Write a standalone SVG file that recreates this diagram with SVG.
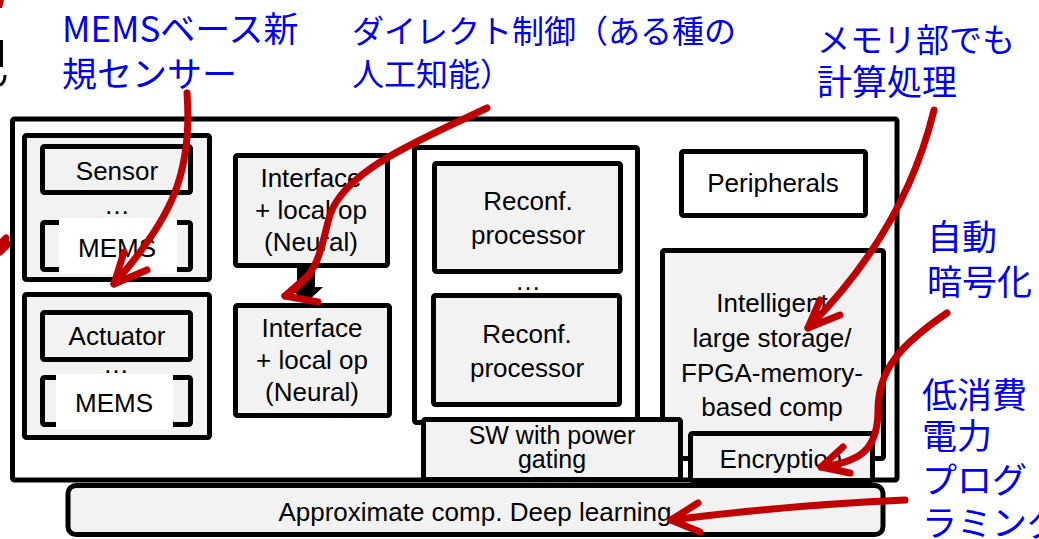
<svg xmlns="http://www.w3.org/2000/svg" width="1039" height="539" viewBox="0 0 1039 539">
<style>
.box{stroke:#000;stroke-width:5;fill:#f2f2f2}
.wbox{stroke:#000;stroke-width:5;fill:#fff}
.t{font-family:"Liberation Sans",Arial,sans-serif;font-size:26px;fill:#000;text-anchor:middle}
.sw{font-size:25px}
.jp{font-family:"Noto Sans CJK JP","Noto Sans CJK SC",sans-serif;font-size:33px;fill:#0000f0}
.jpl{font-size:35px}
.jps{font-size:32px}
.red{fill:none;stroke:#c00000;stroke-width:7;stroke-linecap:round;stroke-linejoin:round}
</style>
<rect width="1039" height="539" fill="#fff"/>
<g id="edge-fragments">
<path d="M0,0 L4,0 L2,8 L0,8 Z" fill="#c00000"/>
<rect x="0" y="40" width="3" height="27" fill="#000"/>
<path d="M5,75 Q5,83 0,85" fill="none" stroke="#000" stroke-width="3"/>
<path d="M0,244 L6,238 M0,252 L8,244" class="red" stroke-width="4"/>
</g>
<g id="outer"><rect class="wbox" x="12.5" y="119" width="884.5" height="361" rx="2"/></g>
<g id="approx"><rect class="box" x="68" y="485.5" width="815" height="49" rx="8"/><text class="t" x="475" y="521">Approximate comp. Deep learning</text></g>
<g id="sensor-group"><rect class="box" x="24.5" y="135.5" width="185" height="144" rx="2"/></g>
<g id="sensor"><rect class="box" x="42.5" y="146.5" width="148" height="46" rx="2"/><text class="t" x="117" y="180">Sensor</text></g>
<g id="sensor-dots"><text class="t" x="117" y="214">…</text></g>
<g id="sensor-mems"><rect class="box" x="42.5" y="222.5" width="148" height="47" rx="2"/><rect x="59" y="218" width="118" height="56" fill="#fff"/><text class="t" x="117" y="257">MEMS</text></g>
<g id="actuator-group"><rect class="box" x="24.5" y="294.5" width="185" height="143" rx="2"/></g>
<g id="actuator"><rect class="box" x="42.5" y="312.5" width="148" height="47" rx="2"/><text class="t" x="117" y="345">Actuator</text></g>
<g id="actuator-dots"><text class="t" x="116" y="373">…</text></g>
<g id="actuator-mems"><rect class="box" x="42.5" y="377.5" width="148" height="47" rx="2"/><rect x="56" y="374" width="117" height="55" fill="#fff"/><text class="t" x="114" y="412">MEMS</text></g>
<g id="interface1"><rect class="box" x="235.5" y="155.5" width="152" height="110" rx="2"/><text class="t" x="311" y="187">Interface</text><text class="t" x="311" y="219">+ local op</text><text class="t" x="311" y="251">(Neural)</text></g>
<g id="interface2"><rect class="box" x="235.5" y="305.5" width="154" height="110" rx="2"/><text class="t" x="312" y="337">Interface</text><text class="t" x="312" y="369">+ local op</text><text class="t" x="312" y="401">(Neural)</text></g>
<g id="reconf-group"><rect class="wbox" x="414.5" y="147.5" width="223" height="275" rx="2"/></g>
<g id="reconf1"><rect class="box" x="434.5" y="163.5" width="186" height="108" rx="2"/><text class="t" x="528" y="210">Reconf.</text><text class="t" x="528" y="244">processor</text></g>
<g id="reconf-dots"><text class="t" x="528" y="290">…</text></g>
<g id="reconf2"><rect class="box" x="433.5" y="295.5" width="186" height="109" rx="2"/><text class="t" x="527" y="343">Reconf.</text><text class="t" x="527" y="377">processor</text></g>
<g id="peripherals"><rect class="wbox" x="681.5" y="151.5" width="184" height="64" rx="2"/><text class="t" x="773" y="192">Peripherals</text></g>
<g id="storage"><rect class="box" x="662.5" y="250.5" width="221" height="208" rx="2"/><text class="t" x="772" y="312">Intelligent</text><text class="t" x="772" y="347">large storage/</text><text class="t" x="772" y="382">FPGA-memory-</text><text class="t" x="772" y="416">based comp</text></g>
<g id="sw"><rect class="box" x="423.5" y="419.5" width="257" height="60" rx="2"/><text class="t sw" x="552" y="444">SW with power</text><text class="t sw" x="552" y="468">gating</text></g>
<g id="encryption"><rect class="box" x="690.5" y="433.5" width="182" height="47" rx="2"/><text class="t" x="781" y="468">Encryption</text></g>
<g id="connectors">
<polygon points="297,267 315,267 315,287 323,287 306,303 289,287 297,287" fill="#000"/>
<path class="red" d="M187,93 C193,175 170,220 114,284"/>
<polyline class="red" points="124,252 114,284 147,270"/>
<path class="red" d="M487,108 C420,140 345,170 330,215 C320,248 322,272 285,296"/>
<polyline class="red" points="310,274 285,296 318,302"/>
<path class="red" d="M934,110 Q905,230 808,328"/>
<polyline class="red" points="820,300 808,328 840,315"/>
<path class="red" d="M947,313 C900,345 878,370 878,410 C878,450 860,462 821,467"/>
<polyline class="red" points="843,447 821,467 850,473"/>
<path class="red" d="M905,500 Q790,505 671,520"/>
<polyline class="red" points="698,503 671,520 700,532"/>
</g>
<g id="labels">
<text class="jp jpl" x="62" y="42">MEMSベース新</text>
<text class="jp jpl" x="62" y="87">規センサー</text>
<text class="jp jps" x="352" y="43">ダイレクト制御（ある種の</text>
<text class="jp jps" x="352" y="86">人工知能）</text>
<text class="jp" x="817" y="52">メモリ部でも</text>
<text class="jp jpl" x="817" y="95">計算処理</text>
<text class="jp jpl" x="927" y="250">自動</text>
<text class="jp jpl" x="927" y="295">暗号化</text>
<text class="jp jpl" x="922" y="408">低消費</text>
<text class="jp jpl" x="922" y="449">電力</text>
<text class="jp jpl" x="922" y="493">プログ</text>
<text class="jp jpl" x="922" y="536">ラミング</text>
</g>
</svg>
